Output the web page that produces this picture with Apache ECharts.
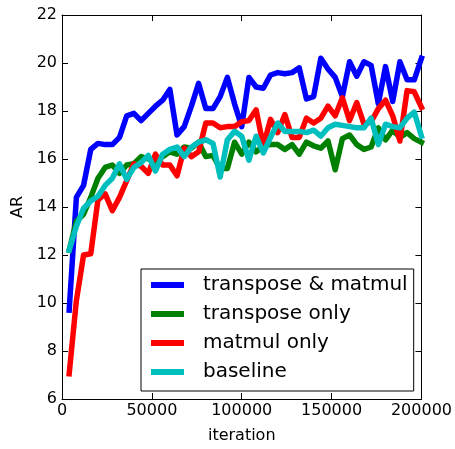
<!DOCTYPE html>
<html>
<head>
<meta charset="utf-8">
<script src="https://cdn.jsdelivr.net/npm/echarts@6/dist/echarts.min.js"></script>
<style>html,body{margin:0;padding:0;background:#fff}#c{width:455px;height:449px}</style>
</head>
<body>
<div id="c"></div>
<script>
var iterations = [4000,8000,12000,16000,20000,24000,28000,32000,36000,40000,
  44000,48000,52000,56000,60000,64000,68000,72000,76000,80000,
  84000,88000,92000,96000,100000,104000,108000,112000,116000,120000,
  124000,128000,132000,136000,140000,144000,148000,152000,156000,160000,
  164000,168000,172000,176000,180000,184000,188000,192000,196000,200000];

var transposeMatmul = [9.7,14.4,14.9,16.4,16.65,16.6,16.6,16.9,17.8,17.9,
  17.6,17.9,18.2,18.45,18.9,17.0,17.35,18.2,19.15,18.1,
  18.1,18.6,19.4,18.3,17.35,19.4,19.0,18.95,19.5,19.6,
  19.55,19.6,19.8,18.5,18.6,20.2,19.75,19.4,18.6,20.05,
  19.45,20.05,19.9,18.3,19.85,18.4,20.05,19.3,19.3,20.2];

var transposeOnly = [12.2,13.4,13.7,14.4,15.2,15.65,15.75,15.4,15.75,15.8,
  16.1,16.0,15.9,16.1,16.3,16.2,16.5,16.45,16.7,16.1,
  16.15,15.6,15.6,16.7,16.2,16.7,16.3,16.55,16.6,16.6,
  16.4,16.6,16.2,16.7,16.55,16.45,16.75,15.55,16.85,17.0,
  16.6,16.4,16.5,17.3,16.8,17.2,16.9,17.1,16.85,16.7];

var matmulOnly = [7.05,10.1,12.0,12.05,14.3,14.55,13.85,14.4,15.1,15.8,
  15.7,15.4,16.2,15.75,15.75,15.3,16.45,16.1,16.3,17.5,
  17.5,17.3,17.35,17.35,17.55,17.6,18.05,16.55,17.65,17.1,
  17.85,16.9,16.9,17.7,17.5,17.7,18.2,17.8,18.55,17.6,
  18.35,17.45,17.55,18.1,18.45,17.8,16.75,18.85,18.8,18.15];

var baseline = [12.2,13.2,13.95,14.25,14.45,14.9,15.2,15.8,15.15,15.65,
  15.85,16.15,15.5,16.2,16.4,16.5,16.1,16.5,16.7,16.8,
  16.65,15.25,16.8,17.15,16.95,15.95,16.95,16.25,16.9,17.5,
  17.15,17.15,17.15,17.1,17.2,16.95,17.3,17.45,17.4,17.35,
  17.3,17.3,17.7,16.6,17.45,17.35,17.3,17.7,17.95,16.95];

var seriesNames = ['transpose & matmul','transpose only','matmul only','baseline'];
var seriesColors = ['#0000ff','#008000','#ff0000','#00bfbf'];
var seriesValues = [transposeMatmul, transposeOnly, matmulOnly, baseline];

var xTicks = {min:0, max:200000, interval:50000};
var yTicks = {min:6, max:22, interval:2};

function pairs(vals){ return iterations.map(function(x,i){return [x, vals[i]];}); }

var font = 'DejaVu Sans';
var axisBase = {
  axisLine:{show:true, onZero:false, lineStyle:{color:'#000', width:1}},
  axisTick:{show:true, inside:true, length:6, lineStyle:{color:'#000', width:1}},
  splitLine:{show:false}
};

var chart = echarts.init(document.getElementById('c'), null, {renderer:'canvas'});
chart.setOption({
  animation:false,
  backgroundColor:'#fff',
  grid:{left:62, right:33, top:15, bottom:49, containLabel:false},
  xAxis:[
    Object.assign({type:'value', position:'bottom', min:xTicks.min, max:xTicks.max, interval:xTicks.interval,
      name:'iteration', nameLocation:'middle', nameGap:29,
      nameTextStyle:{fontFamily:font, fontSize:16, color:'#000'},
      axisLabel:{fontFamily:font, fontSize:16, color:'#000', margin:4,
        formatter:function(v){return String(v);}}}, axisBase),
    Object.assign({type:'value', position:'top', min:xTicks.min, max:xTicks.max, interval:xTicks.interval,
      axisLabel:{show:false}}, axisBase)
  ],
  yAxis:[
    Object.assign({type:'value', position:'left', min:yTicks.min, max:yTicks.max, interval:yTicks.interval,
      name:'AR', nameLocation:'middle', nameGap:36,
      nameTextStyle:{fontFamily:font, fontSize:16, color:'#000'},
      axisLabel:{fontFamily:font, fontSize:16, color:'#000', margin:5}}, axisBase),
    Object.assign({type:'value', position:'right', min:yTicks.min, max:yTicks.max, interval:yTicks.interval,
      axisLabel:{show:false}}, axisBase)
  ],
  legend:{
    show:true, orient:'vertical', left:141, top:269,
    data:seriesNames.map(function(n){return {name:n, icon:'rect'};}),
    itemWidth:33, itemHeight:6, itemGap:9,
    padding:[6,6,9,10],
    borderColor:'#000', borderWidth:1, backgroundColor:'#fff',
    textStyle:{fontFamily:font, fontSize:20, color:'#000', padding:[0,0,0,14], lineHeight:20}
  },
  series:seriesNames.map(function(n,k){
    return {
      name:n, type:'line', data:pairs(seriesValues[k]), xAxisIndex:0, yAxisIndex:0,
      symbol:'none', showSymbol:false, smooth:false, clip:true,
      color:seriesColors[k],
      lineStyle:{color:seriesColors[k], width:5.5, join:'round', cap:'square'},
      z:2+k
    };
  })
});
</script>
</body>
</html>
